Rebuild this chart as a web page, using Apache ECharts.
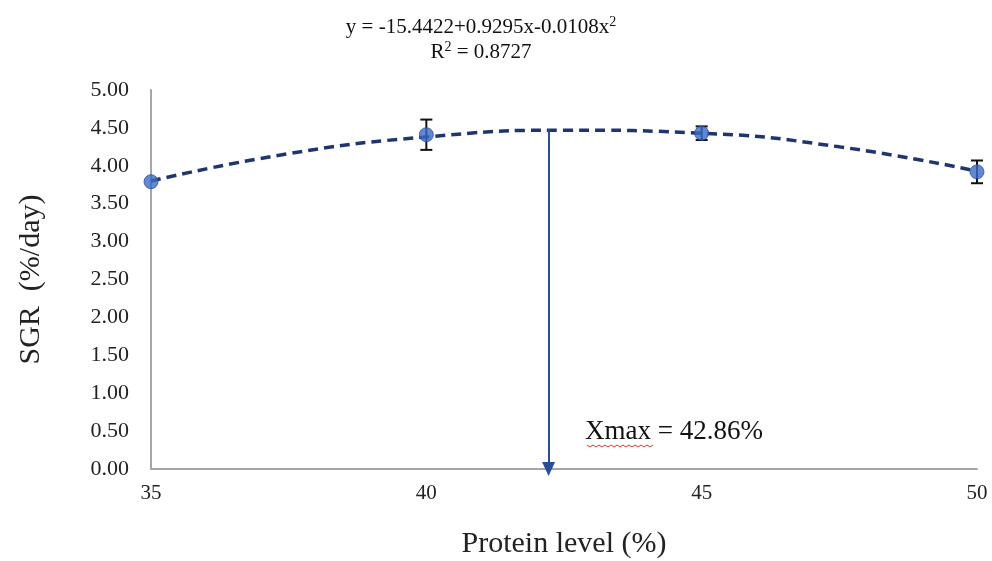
<!DOCTYPE html>
<html>
<head>
<meta charset="utf-8">
<script src="https://cdn.jsdelivr.net/npm/echarts@6/dist/echarts.min.js"></script>
<style>html,body{margin:0;padding:0;background:#fff}#c{width:992px;height:561px}</style>
</head>
<body>
<div id="c"></div>
<script>
// Data
var proteinLevels = [35, 40, 45, 50];
var sgrMeans = [3.79, 4.41, 4.43, 3.92];
var sgrErrors = [0.0, 0.20, 0.09, 0.15];
var trendX = [35, 37.5, 40, 42.5, 45, 47.5, 50];
var trendY = [3.80, 4.16, 4.38, 4.47, 4.43, 4.25, 3.93];
var xTicks = [35, 40, 45, 50];
var yTicks = [0, 0.5, 1, 1.5, 2, 2.5, 3, 3.5, 4, 4.5, 5];
var arrowX = 42.22;
var arrowTop = 4.48;
var equationText = 'y = -15.4422+0.9295x-0.0108x{sup|2}';
var r2Text = 'R{sup|2} = 0.8727';
var xmaxLabel = 'Xmax = 42.86%';

var font = '"Liberation Serif", "Times New Roman", serif';
var chart = echarts.init(document.getElementById('c'));

var pointData = proteinLevels.map(function (x, i) { return [x, sgrMeans[i]]; });
var errData = proteinLevels.map(function (x, i) { return [x, sgrMeans[i] - sgrErrors[i], sgrMeans[i] + sgrErrors[i]]; });
var trendData = trendX.map(function (x, i) { return [x, trendY[i]]; });

chart.setOption({
  animation: false,
  backgroundColor: '#ffffff',
  title: {
    text: equationText + '\n' + r2Text,
    left: 476, top: 10, textAlign: 'center',
    textStyle: {
      fontFamily: font, fontSize: 21, fontWeight: 'normal', color: '#111', lineHeight: 25, align: 'center',
      rich: { sup: { fontFamily: font, fontSize: 14, verticalAlign: 'top', padding: [0, 0, 8, 0], color: '#111' } }
    }
  },
  grid: { left: 151, right: 15, top: 90, bottom: 92, containLabel: false, outerBoundsMode: 'none' },
  xAxis: {
    type: 'value', min: xTicks[0], max: xTicks[xTicks.length - 1], interval: 5,
    name: 'Protein level (%)', nameLocation: 'middle', nameGap: 60,
    nameTextStyle: { fontFamily: font, fontSize: 30, color: '#222' },
    axisLine: { show: true, lineStyle: { color: '#A6A6A6', width: 2 } },
    axisTick: { show: false },
    splitLine: { show: false },
    axisLabel: { fontFamily: font, fontSize: 21, color: '#222', margin: 14 }
  },
  yAxis: {
    type: 'value', min: yTicks[0], max: yTicks[yTicks.length - 1], interval: 0.5,
    name: 'SGR  (%/day)', nameLocation: 'middle', nameGap: 105, nameRotate: 90,
    nameTextStyle: { fontFamily: font, fontSize: 30, color: '#222' },
    axisLine: { show: true, lineStyle: { color: '#A6A6A6', width: 2 } },
    axisTick: { show: false },
    splitLine: { show: false },
    axisLabel: { fontFamily: font, fontSize: 22, color: '#222', margin: 22, formatter: function (v) { return v.toFixed(2); } }
  },
  series: [
    {
      type: 'line', data: trendData, smooth: 0.5, symbol: 'none', z: 2,
      lineStyle: { color: '#1F3570', width: 3.5, type: [10, 6] },
      markLine: {
        silent: true, symbol: ['none', 'triangle'], symbolSize: [13, 14], label: { show: false },
        lineStyle: { color: '#2A4A9A', width: 2, type: 'solid' },
        data: [[{ coord: [arrowX, arrowTop] }, { coord: [arrowX, 0] }]]
      }
    },
    {
      type: 'custom', z: 3,
      renderItem: function (params, api) {
        var top = api.coord([api.value(0), api.value(2)]);
        var bot = api.coord([api.value(0), api.value(1)]);
        if (Math.abs(bot[1] - top[1]) < 1) return null;
        var w = 6;
        var st = { stroke: '#111', lineWidth: 2 };
        return { type: 'group', children: [
          { type: 'line', shape: { x1: top[0], y1: top[1], x2: bot[0], y2: bot[1] }, style: st },
          { type: 'line', shape: { x1: top[0] - w, y1: top[1], x2: top[0] + w, y2: top[1] }, style: st },
          { type: 'line', shape: { x1: bot[0] - w, y1: bot[1], x2: bot[0] + w, y2: bot[1] }, style: st }
        ] };
      },
      encode: { x: 0, y: [1, 2] },
      data: errData
    },
    {
      type: 'scatter', data: pointData, symbol: 'circle', symbolSize: 14, z: 4,
      itemStyle: { color: '#3A6CC8', borderColor: '#2B50A0', borderWidth: 1 },
      markPoint: {
        symbol: 'rect', symbolSize: 0,
        label: { show: true, formatter: xmaxLabel, fontFamily: font, fontSize: 27, color: '#111', position: 'right', distance: 0 },
        data: [{ coord: [42.88, 0.49] }]
      }
    }
  ],
  graphic: [
    {
      type: 'polyline', z: 10,
      shape: { points: (function () { var p = []; for (var i = 0; i <= 22; i++) p.push([587 + i * 3, 445 + (i % 2 ? 2 : 0)]); return p; })() },
      style: { stroke: '#E03030', lineWidth: 1, fill: null }
    }
  ]
});
</script>
</body>
</html>
